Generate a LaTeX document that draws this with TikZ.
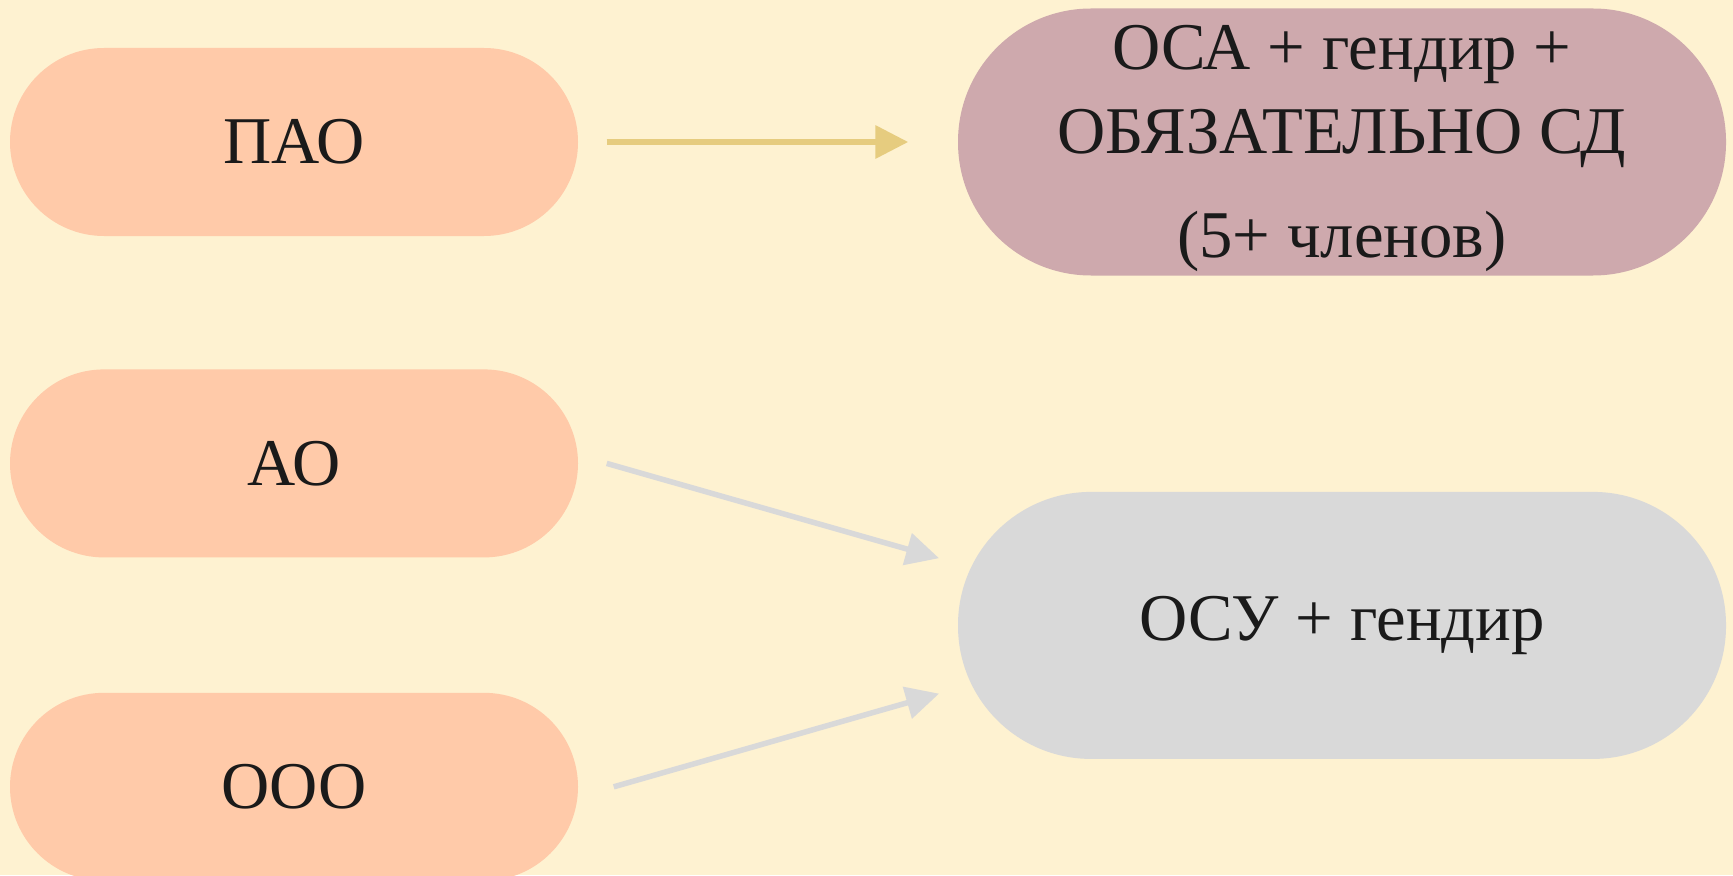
\documentclass[tikz,border=0pt]{standalone}
\usepackage{fontspec}
\setmainfont{Liberation Serif}
\usepackage{tikz}
\usepackage{xcolor}
\usetikzlibrary{positioning,arrows.meta}
\definecolor{paper}{HTML}{FEF2D1}
\definecolor{peach}{HTML}{FFCAA9}
\definecolor{mauve}{HTML}{CEA9AD}
\definecolor{ash}{HTML}{D9D9D9}
\definecolor{straw}{HTML}{E6CC7F}
\definecolor{ink}{HTML}{1A1A1A}
\tikzset{
    pill-form/.style = {fill=peach, rectangle, rounded corners=0.94cm, minimum width=5.68cm, minimum height=1.88cm, inner sep=0pt, text=ink, font=\fontsize{19}{24}\selectfont},
    pill-body/.style = {rectangle, rounded corners=1.33cm, minimum width=7.68cm, minimum height=2.67cm, inner sep=0pt, align=center, text=ink, font=\fontsize{19}{24}\selectfont},
    link-main/.style = {draw=straw, line width=0.065cm, -{Triangle[length=0.33cm, width=0.32cm]}, shorten <=0.28cm, shorten >=0.49cm},
    link-rest/.style = {draw=ash, line width=0.055cm, -{Triangle[length=0.33cm, width=0.32cm]}, shorten >=0.19cm},
}
\begin{document}
\begin{tikzpicture}
\fill[paper] (0,0) rectangle (17.33,-8.75);
\useasboundingbox (0,0) rectangle (17.33,-8.75);
% forms of company
\node[pill-form] (pao) at (2.94,-1.42) {ПАО};
\node[pill-form, below=1.32cm of pao] (ao) {АО};
\node[pill-form, below=1.34cm of ao] (ooo) {ООО};
% governing bodies
\node[pill-body, fill=mauve] (osa) at (13.42,-1.42) {\rule{0pt}{0.57cm}ОСА + гендир +\\ ОБЯЗАТЕЛЬНО СД\\[0.2cm] (5+ членов)};
\node[pill-body, fill=ash, below=2.15cm of osa] (osu) {ОСУ + гендир};
\draw[link-main] (pao.east) -- (osa.west);
\draw[link-rest] ([xshift=2.8mm]ao.east) -- ([yshift=6.2mm]osu.west);
\draw[link-rest] ([xshift=3.5mm]ooo.east) -- ([yshift=-6.3mm]osu.west);
\end{tikzpicture}
\end{document}
